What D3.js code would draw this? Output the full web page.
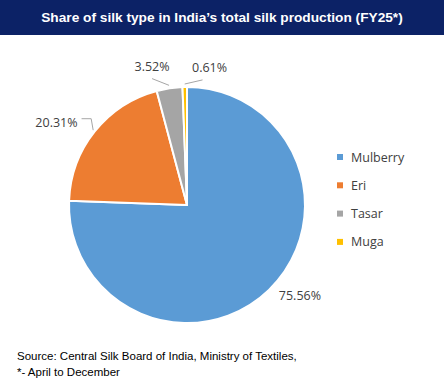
<!DOCTYPE html>
<html><head><meta charset="utf-8">
<script src="https://cdn.jsdelivr.net/npm/d3@7"></script>
<style>
html,body{margin:0;padding:0;background:#fff;}
svg{display:block;}
</style>
</head><body>
<svg id="chart" width="444" height="388"></svg>
<script>
const categories = ["Mulberry", "Eri", "Tasar", "Muga"];
const shares = [75.56, 20.31, 3.52, 0.61];
const colors = ["#5B9BD5", "#ED7D31", "#A5A5A5", "#FFC000"];
const titleText = "Share of silk type in India\u2019s total silk production (FY25*)";
const sourceLines = ["Source: Central Silk Board of India, Ministry of Textiles,", "*- April to December"];

const svg = d3.select("#chart");
const W = 444, H = 388;

// title bar
svg.append("rect").attr("x",0).attr("y",0).attr("width",W).attr("height",35).attr("fill","#0C2266");
svg.append("text").attr("x",W/2).attr("y",22).attr("text-anchor","middle")
  .attr("fill","#fff").attr("font-family","Liberation Sans, Arial, sans-serif")
  .attr("font-weight","bold").attr("font-size",13.7).text(titleText);

const cx = 187, cy = 205, R = 118;
const g = svg.append("g").attr("transform",`translate(${cx},${cy})`);
const pie = d3.pie().sort(null).value(d=>d)(shares);
const arc = d3.arc().innerRadius(0).outerRadius(R);
g.selectAll("path.slice").data(pie).enter().append("path")
  .attr("class","slice").attr("d",arc).attr("fill",(d,i)=>colors[i])
  .attr("stroke","#fff").attr("stroke-width",2).attr("stroke-linejoin","round");

const fmt = v => v.toFixed(2) + "%";
const pt = (a, r) => [r*Math.sin(a), -r*Math.cos(a)];
const fam = "Open Sans, Liberation Sans, sans-serif";
const FS = 12.5;
const lineCol = "#A6A6A6";
function label(x, y, anchor, txt){
  g.append("text").attr("x",x).attr("y",y).attr("text-anchor",anchor)
    .attr("font-family",fam).attr("font-size",FS).attr("fill","#404040").text(txt);
}
pie.forEach((d,i)=>{
  const mid = (d.startAngle+d.endAngle)/2;
  if (i===0) {
    const p = pt(mid - 0.125, 145);
    label(p[0], p[1]+4.5, "middle", fmt(shares[i]));
  } else if (i===1) {
    const p = pt(mid, 140);
    label(p[0], p[1]+9, "end", fmt(shares[i]));
    const e = pt(mid, R+2);
    g.append("polyline").attr("points",`${p[0]+4},${p[1]+1} ${e[0]-2},${p[1]+1} ${e[0]},${e[1]}`)
      .attr("fill","none").attr("stroke",lineCol).attr("stroke-width",1);
  } else {
    const da = i===2 ? -0.113 : 0.187;
    const p = pt(mid + da, 135);
    const ty = p[1] + (i===2 ? -4 : 0);
    label(p[0], ty, "middle", fmt(shares[i]));
    const e = pt(mid, R+3);
    const sx = i===2 ? p[0] : p[0]-7;
    g.append("line").attr("x1",sx).attr("y1",ty+8).attr("x2",e[0]).attr("y2",e[1])
      .attr("stroke",lineCol).attr("stroke-width",1);
  }
});

// legend
const lg = svg.append("g").attr("transform","translate(337,157)");
categories.forEach((c,i)=>{
  const y = i*28.3;
  lg.append("rect").attr("x",0).attr("y",y-3).attr("width",6).attr("height",6).attr("fill",colors[i]);
  lg.append("text").attr("x",14).attr("y",y+4.5).attr("font-family",fam)
    .attr("font-size",FS).attr("fill","#404040").text(c);
});

// source
sourceLines.forEach((s,i)=>{
  svg.append("text").attr("x",17).attr("y",360+i*16).attr("font-family","Liberation Sans, Arial, sans-serif")
    .attr("font-size",11.5).attr("fill","#000").text(s);
});
</script>
</body></html>
